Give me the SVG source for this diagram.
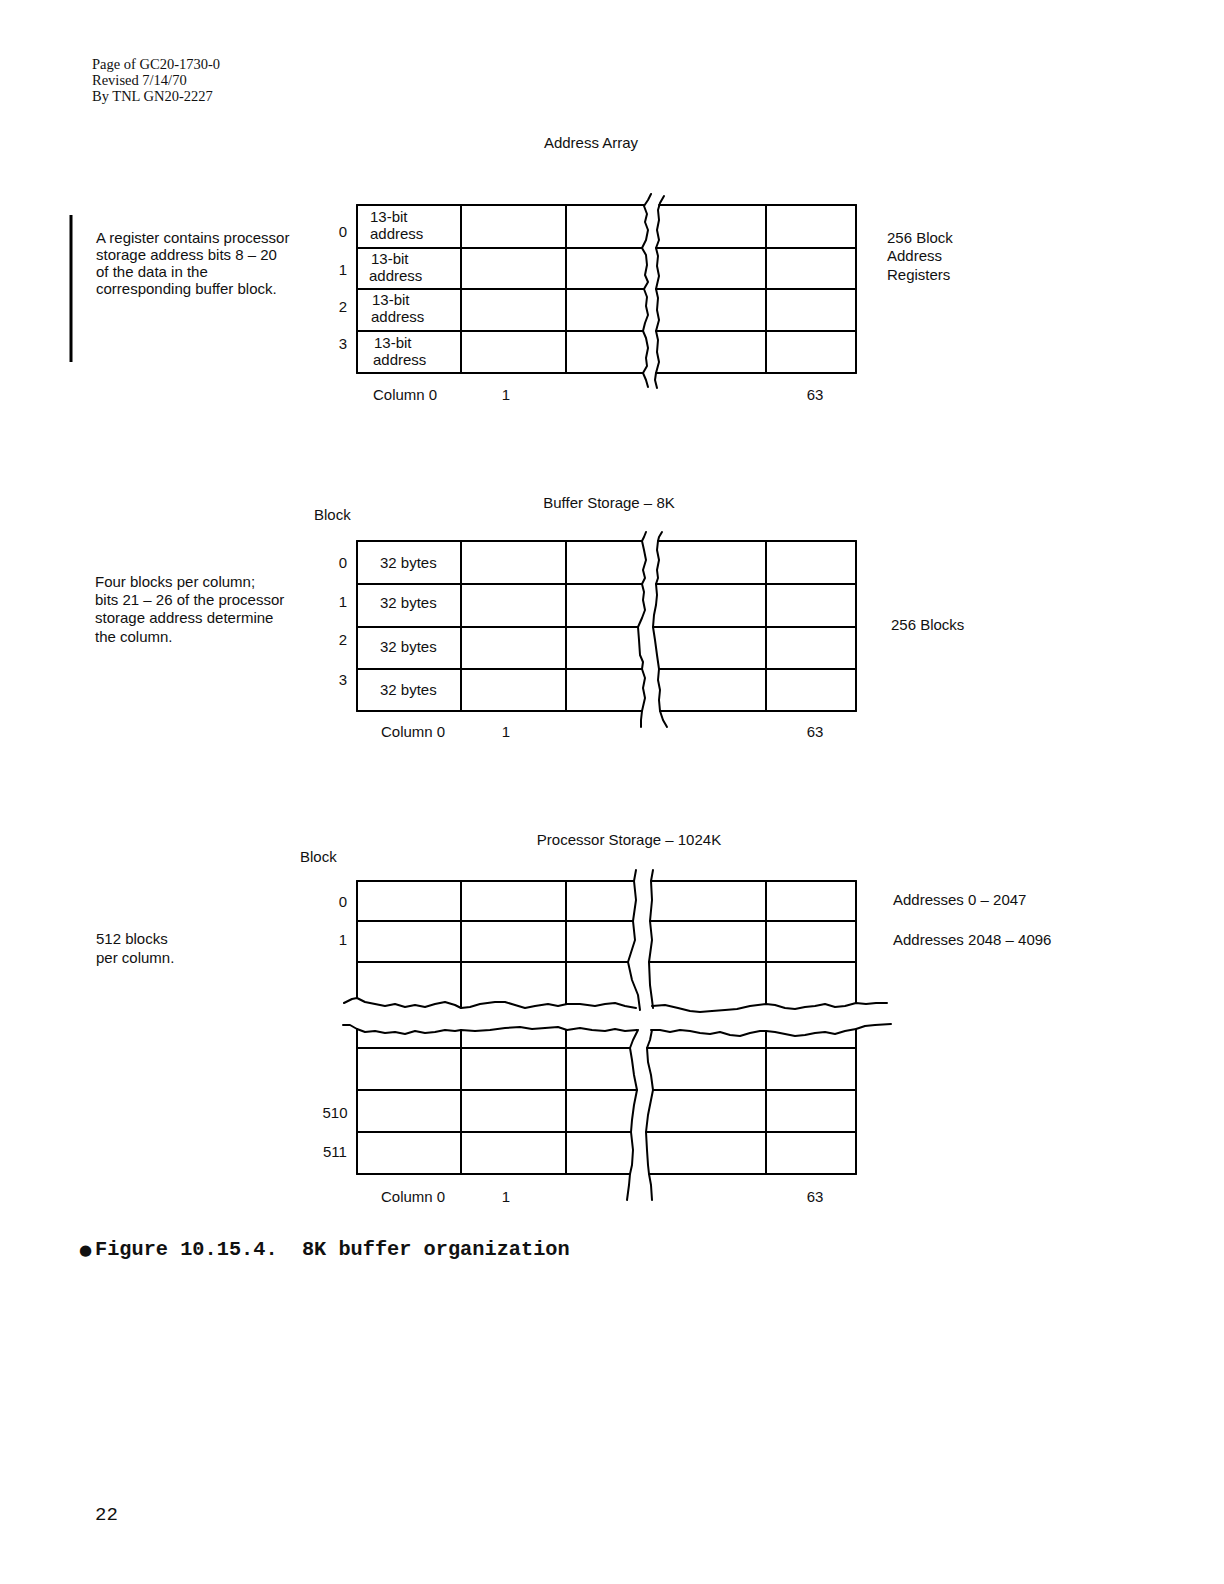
<svg xmlns="http://www.w3.org/2000/svg" width="1224" height="1584" viewBox="0 0 1224 1584">
<style>
.ln{stroke:#000;stroke-width:2;fill:none;stroke-linejoin:round;stroke-linecap:round}
.t{font-family:"Liberation Sans",Arial,sans-serif;font-size:15px;fill:#111}
.m{text-anchor:middle}
.hdr{font-family:"Liberation Serif","Times New Roman",serif;font-size:14.5px;fill:#111}
.cap{font-family:"Liberation Mono","Courier New",monospace;font-size:20.3px;font-weight:bold;fill:#111;white-space:pre}
.pg{font-family:"Liberation Mono","Courier New",monospace;font-size:19px;fill:#111}
</style>
<rect x="0" y="0" width="1224" height="1584" fill="#fff"/>

<g id="header">
<text class="hdr" x="92" y="69">Page of GC20-1730-0</text>
<text class="hdr" x="92" y="85">Revised 7/14/70</text>
<text class="hdr" x="92" y="101">By TNL GN20-2227</text>
</g>

<!-- Section 1: Address Array -->
<g id="address-array">
<text class="t m" x="591" y="148">Address Array</text>
<rect x="69.5" y="215" width="3" height="147" fill="#000"/>
<g id="note-1">
<text class="t" x="96" y="243">A register contains processor</text>
<text class="t" x="96" y="260">storage address bits 8 – 20</text>
<text class="t" x="96" y="277">of the data in the</text>
<text class="t" x="96" y="294">corresponding buffer block.</text>
</g>
<g id="aa-rows" class="t m">
<text x="343" y="237">0</text>
<text x="343" y="275">1</text>
<text x="343" y="312">2</text>
<text x="343" y="349">3</text>
</g>
<g id="aa-grid">
<line class="ln" x1="357" y1="205" x2="644" y2="205"/>
<line class="ln" x1="357" y1="248" x2="642" y2="248"/>
<line class="ln" x1="357" y1="289" x2="644" y2="289"/>
<line class="ln" x1="357" y1="331" x2="643" y2="331"/>
<line class="ln" x1="357" y1="373" x2="643" y2="373"/>
<line class="ln" x1="659" y1="205" x2="856" y2="205"/>
<line class="ln" x1="656" y1="248" x2="856" y2="248"/>
<line class="ln" x1="656" y1="289" x2="856" y2="289"/>
<line class="ln" x1="656" y1="331" x2="856" y2="331"/>
<line class="ln" x1="656" y1="373" x2="856" y2="373"/>
<line class="ln" x1="357" y1="205" x2="357" y2="373"/>
<line class="ln" x1="461" y1="205" x2="461" y2="373"/>
<line class="ln" x1="566" y1="205" x2="566" y2="373"/>
<line class="ln" x1="766" y1="205" x2="766" y2="373"/>
<line class="ln" x1="856" y1="205" x2="856" y2="373"/>
<polyline class="ln" points="651,194 648,200 644,206 647,214 645,222 648,230 646,240 642,248 646,255 647,265 645,275 648,282 644,289 647,297 646,306 648,315 645,323 643,331 646,338 648,348 646,358 647,366 643,373 646,380 648,387"/>
<polyline class="ln" points="664,196 660,203 658,210 659,220 657,230 659,240 656,248 658,256 657,266 659,276 656,289 658,298 657,310 659,320 656,331 658,340 657,352 659,362 656,373 655,380 657,388"/>
</g>
<g id="aa-cells" class="t">
<text x="370" y="222">13-bit</text><text x="370" y="239">address</text>
<text x="371" y="264">13-bit</text><text x="369" y="281">address</text>
<text x="372" y="305">13-bit</text><text x="371" y="322">address</text>
<text x="374" y="348">13-bit</text><text x="373" y="365">address</text>
</g>
<g id="aa-cols" class="t">
<text x="373" y="400">Column 0</text>
<text class="m" x="506" y="400">1</text>
<text class="m" x="815" y="400">63</text>
</g>
<g id="aa-right" class="t">
<text x="887" y="243">256 Block</text>
<text x="887" y="261">Address</text>
<text x="887" y="280">Registers</text>
</g>
</g>

<!-- Section 2: Buffer Storage -->
<g id="buffer-storage">
<text class="t m" x="609" y="508">Buffer Storage – 8K</text>
<text class="t" x="314" y="520">Block</text>
<g id="note-2" class="t">
<text x="95" y="587">Four blocks per column;</text>
<text x="95" y="605">bits 21 – 26 of the processor</text>
<text x="95" y="623">storage address determine</text>
<text x="95" y="642">the column.</text>
</g>
<g id="bs-rows" class="t m">
<text x="343" y="568">0</text>
<text x="343" y="607">1</text>
<text x="343" y="645">2</text>
<text x="343" y="685">3</text>
</g>
<g id="bs-grid">
<line class="ln" x1="357" y1="541" x2="642" y2="541"/>
<line class="ln" x1="357" y1="584" x2="642" y2="584"/>
<line class="ln" x1="357" y1="627" x2="638" y2="627"/>
<line class="ln" x1="357" y1="669" x2="642" y2="669"/>
<line class="ln" x1="357" y1="711" x2="642" y2="711"/>
<line class="ln" x1="658" y1="541" x2="856" y2="541"/>
<line class="ln" x1="656" y1="584" x2="856" y2="584"/>
<line class="ln" x1="653" y1="627" x2="856" y2="627"/>
<line class="ln" x1="659" y1="669" x2="856" y2="669"/>
<line class="ln" x1="660" y1="711" x2="856" y2="711"/>
<line class="ln" x1="357" y1="541" x2="357" y2="711"/>
<line class="ln" x1="461" y1="541" x2="461" y2="711"/>
<line class="ln" x1="566" y1="541" x2="566" y2="711"/>
<line class="ln" x1="766" y1="541" x2="766" y2="711"/>
<line class="ln" x1="856" y1="541" x2="856" y2="711"/>
<polyline class="ln" points="646,532 644,537 642,541 644,550 646,560 643,570 645,578 642,584 644,592 643,600 645,610 642,618 638,627 639,640 640,655 643,662 642,669 645,678 643,688 645,698 642,711 641,720 641,727"/>
<polyline class="ln" points="662,532 659,537 658,541 657,550 659,560 657,570 658,578 656,584 657,595 656,605 654,615 653,627 655,640 657,655 659,669 658,680 660,690 659,700 660,711 663,720 667,727"/>
</g>
<g id="bs-cells" class="t">
<text x="380" y="568">32 bytes</text>
<text x="380" y="608">32 bytes</text>
<text x="380" y="652">32 bytes</text>
<text x="380" y="695">32 bytes</text>
</g>
<g id="bs-cols" class="t">
<text x="381" y="737">Column 0</text>
<text class="m" x="506" y="737">1</text>
<text class="m" x="815" y="737">63</text>
</g>
<text id="bs-right" class="t" x="891" y="630">256 Blocks</text>
</g>

<!-- Section 3: Processor Storage -->
<g id="processor-storage">
<text class="t m" x="629" y="845">Processor Storage – 1024K</text>
<text class="t" x="300" y="862">Block</text>
<g id="note-3" class="t">
<text x="96" y="944">512 blocks</text>
<text x="96" y="963">per column.</text>
</g>
<g id="ps-rows" class="t m">
<text x="343" y="907">0</text>
<text x="343" y="945">1</text>
<text x="335" y="1118">510</text>
<text x="335" y="1157">511</text>
</g>
<g id="ps-grid">
<line class="ln" x1="357" y1="881" x2="634" y2="881"/>
<line class="ln" x1="357" y1="921" x2="633" y2="921"/>
<line class="ln" x1="357" y1="962" x2="628" y2="962"/>
<line class="ln" x1="651" y1="881" x2="856" y2="881"/>
<line class="ln" x1="650" y1="921" x2="856" y2="921"/>
<line class="ln" x1="649" y1="962" x2="856" y2="962"/>
<line class="ln" x1="357" y1="881" x2="357" y2="998"/>
<line class="ln" x1="461" y1="881" x2="461" y2="1008"/>
<line class="ln" x1="566" y1="881" x2="566" y2="1004"/>
<line class="ln" x1="766" y1="881" x2="766" y2="1004"/>
<line class="ln" x1="856" y1="881" x2="856" y2="1003"/>
<polyline class="ln" points="344,1003 352,999 357,998 365,1002 375,1004 385,1006 395,1004 405,1007 415,1005 425,1007 435,1004 445,1002 455,1005 461,1008 470,1007 480,1004 495,1002 505,1002 515,1005 525,1008 535,1006 548,1004 558,1006 567,1004 580,1004 595,1006 605,1004 615,1003 625,1006 636,1008"/>
<polyline class="ln" points="652,1006 665,1005 678,1008 690,1011 700,1012 712,1011 725,1010 737,1009 750,1006 766,1004 775,1005 785,1008 795,1009 805,1007 815,1006 825,1004 835,1007 845,1006 856,1003 866,1004 876,1003 887,1003"/>
<polyline class="ln" points="636,870 634,881 636,900 633,921 635,940 628,962 632,980 638,995 640,1010"/>
<polyline class="ln" points="653,870 651,881 652,900 650,921 652,940 649,962 650,985 652,1000 653,1008"/>

<polyline class="ln" points="343,1025 350,1025 357,1029 365,1032 375,1031 385,1033 395,1032 405,1034 415,1031 425,1033 435,1032 445,1030 455,1031 461,1030 475,1031 490,1030 505,1028 520,1027 532,1029 545,1028 558,1027 567,1030 580,1028 592,1030 605,1031 615,1029 625,1031 637,1030"/>
<polyline class="ln" points="651,1030 660,1030 670,1032 680,1030 690,1031 700,1033 710,1034 720,1032 730,1035 740,1036 750,1033 760,1031 766,1031 775,1032 785,1034 795,1036 805,1035 815,1033 825,1032 835,1034 845,1031 856,1029 865,1026 875,1025 891,1024"/>
<polyline class="ln" points="638,1030 633,1040 630,1048 632,1060 634,1075 637,1090 634,1105 632,1120 631,1132 633,1150 632,1165 630,1174 629,1185 627,1200"/>
<polyline class="ln" points="652,1030 650,1040 647,1048 648,1062 651,1075 653,1090 651,1100 648,1115 646,1132 647,1150 648,1165 649,1174 651,1185 652,1200"/>
<line class="ln" x1="357" y1="1048" x2="630" y2="1048"/>
<line class="ln" x1="357" y1="1090" x2="637" y2="1090"/>
<line class="ln" x1="357" y1="1132" x2="631" y2="1132"/>
<line class="ln" x1="357" y1="1174" x2="630" y2="1174"/>
<line class="ln" x1="647" y1="1048" x2="856" y2="1048"/>
<line class="ln" x1="653" y1="1090" x2="856" y2="1090"/>
<line class="ln" x1="646" y1="1132" x2="856" y2="1132"/>
<line class="ln" x1="649" y1="1174" x2="856" y2="1174"/>
<line class="ln" x1="357" y1="1029" x2="357" y2="1174"/>
<line class="ln" x1="461" y1="1030" x2="461" y2="1174"/>
<line class="ln" x1="566" y1="1030" x2="566" y2="1174"/>
<line class="ln" x1="766" y1="1031" x2="766" y2="1174"/>
<line class="ln" x1="856" y1="1029" x2="856" y2="1174"/>
</g>
<g id="ps-cols" class="t">
<text x="381" y="1202">Column 0</text>
<text class="m" x="506" y="1202">1</text>
<text class="m" x="815" y="1202">63</text>
</g>
<g id="ps-right" class="t">
<text x="893" y="905">Addresses 0 – 2047</text>
<text x="893" y="945">Addresses 2048 – 4096</text>
</g>
</g>

<g id="caption">
<text class="cap" x="79" y="1255"><tspan font-family="DejaVu Sans" font-size="15" font-weight="normal">●</tspan><tspan x="95">Figure 10.15.4.  8K buffer organization</tspan></text>
</g>
<text id="page-number" class="pg" x="95" y="1520">22</text>
</svg>
